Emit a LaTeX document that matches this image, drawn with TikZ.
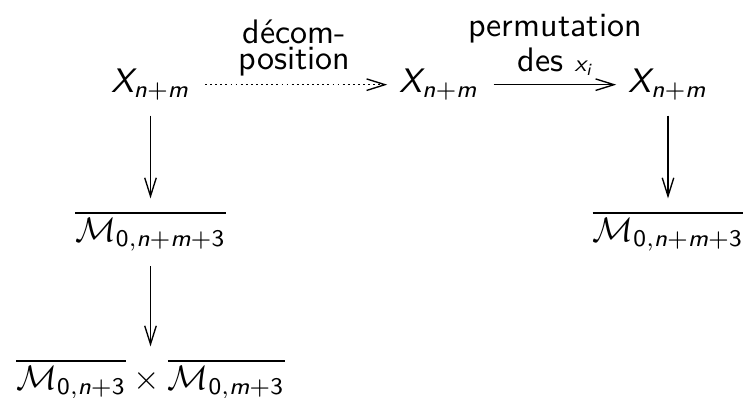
\documentclass[tikz,border=0pt]{standalone}
\usetikzlibrary{arrows.meta}
\renewcommand\familydefault{\sfdefault}
\DeclareMathAlphabet{\mathsfit}{TU}{lmss}{m}{sl}
\newcommand\Xnm{\mathsfit{X}_{\mathsfit{n}+\mathsfit{m}}}
\newcommand\Mb[1]{\overline{\mathcal{M}_{\mathsf{0},#1}}}
\newcommand\sn{\mathsfit{n}}
\newcommand\sm{\mathsfit{m}}
\newcommand\sthree{\mathsf{3}}
\begin{document}
\begin{tikzpicture}[x=0.29412pt,y=-0.29412pt,
  obj/.style={inner sep=3.5pt, anchor=base},
  lbl/.style={inner sep=0pt, align=center, anchor=south},
  arr/.style={-{Straight Barb[length=5.4pt,width=3.4pt]}, line width=0.4pt, shorten <=0.8pt},
  dotarr/.style={arr, dash pattern=on 0.55pt off 0.95pt}]
\useasboundingbox (0,0) rectangle (747,397);
\node[obj] (x1) at (150.5,92.5) {$\Xnm$};
\node[obj] (x2) at (439,92.5) {$\Xnm$};
\node[obj] (x3) at (668,92.5) {$\Xnm$};
\node[obj] (m1) at (150.5,241) {$\Mb{\sn+\sm+\sthree}$};
\node[obj] (m2) at (668,241) {$\Mb{\sn+\sm+\sthree}$};
\node[obj] (p) at (150.5,389) {$\Mb{\sn+\sthree}\times\Mb{\sm+\sthree}$};
\draw[dotarr] (x1) -- (x2);
\draw[arr] (x2) -- (x3);
\draw[arr] (x1) -- (m1);
\draw[arr] (m1) -- (p);
\draw[arr] (x3) -- (m2);
\node[lbl, font=\fontsize{10}{7.6}\selectfont] (l1) at (294.5,77) {décom-\\position};
\node[lbl, font=\fontsize{10}{10.3}\selectfont] (l2) at (555,76) {permutation\\des $\scriptstyle\mathsfit{x}_{\mathsfit{i}}$};
\end{tikzpicture}
\end{document}
